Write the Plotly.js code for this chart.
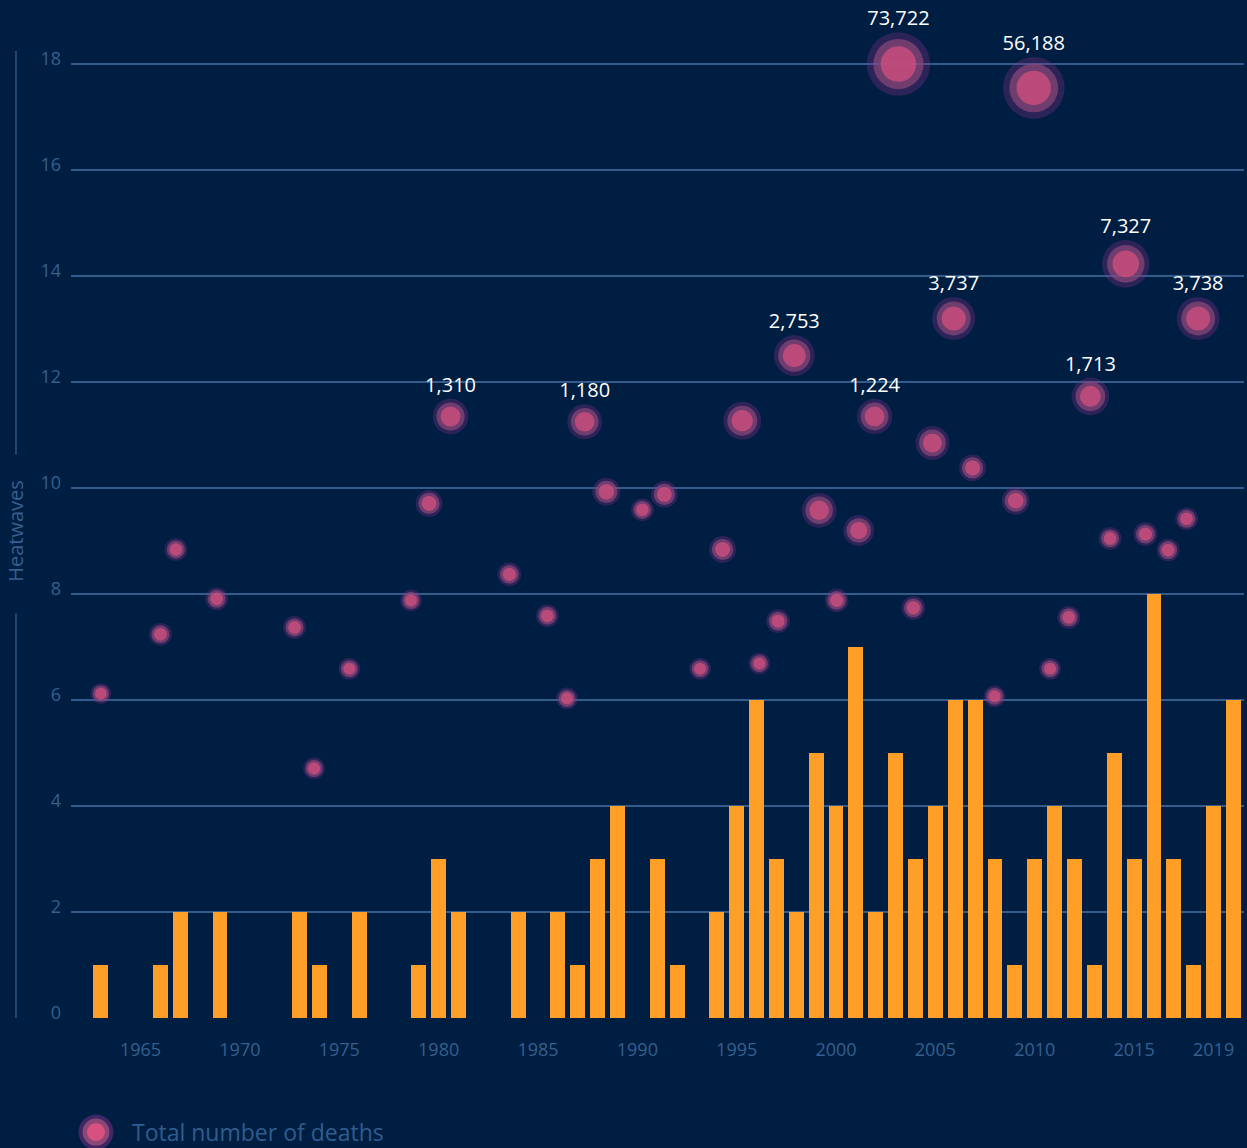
<!DOCTYPE html>
<html>
<head>
<meta charset="utf-8">
<script src="https://cdn.plot.ly/plotly-3.0.1.min.js"></script>
<style>
  html, body { margin: 0; padding: 0; background: #001e41; }
  #chart { width: 1247px; height: 1148px; }
</style>
</head>
<body>
<div id="chart"></div>
<script>
// ---- Data ----
const years = [1963,1964,1965,1966,1967,1968,1969,1970,1971,1972,1973,1974,1975,1976,1977,1978,1979,1980,1981,1982,1983,1984,1985,1986,1987,1988,1989,1990,1991,1992,1993,1994,1995,1996,1997,1998,1999,2000,2001,2002,2003,2004,2005,2006,2007,2008,2009,2010,2011,2012,2013,2014,2015,2016,2017,2018,2019,2020];
const heatwaveCounts = [1,0,0,1,2,0,2,0,0,0,2,1,0,2,0,0,1,3,2,0,0,2,0,2,1,3,4,0,3,1,0,2,4,6,3,2,5,4,7,2,5,3,4,6,6,3,1,3,4,3,1,5,3,8,3,1,4,6];

// Death events (bubbles)
const eventX = [1963.0,1966.0,1966.78,1968.83,1972.75,1973.73,1975.51,1978.61,1979.52,1980.60,1983.56,1985.47,1986.46,1987.35,1988.44,1990.25,1991.36,1993.16,1994.29,1995.28,1996.14,1997.08,1997.90,1999.15,2000.03,2001.14,2001.94,2003.14,2003.89,2004.85,2005.92,2006.87,2007.98,2009.04,2009.95,2010.77,2011.71,2012.80,2013.79,2014.58,2015.57,2016.71,2017.64,2018.22];
const eventY = [6.12,7.24,8.84,7.91,7.37,4.71,6.59,7.88,9.71,11.35,8.37,7.59,6.03,11.25,9.93,9.59,9.88,6.59,8.84,11.27,6.69,7.49,12.50,9.58,7.88,9.20,11.35,18.0,7.74,10.85,13.20,10.38,6.07,9.76,17.55,6.59,7.56,11.73,9.05,14.23,9.13,8.83,9.42,13.20];
const eventDeaths = [150,200,200,200,200,170,170,170,360,1310,230,200,170,1180,420,200,360,170,360,1800,170,230,2753,1150,230,650,1224,73722,230,1000,3737,360,170,420,56188,170,200,1713,200,7327,230,200,200,3738];
const eventLabels = ['','','','','','','','','','1,310','','','','1,180','','','','','','','','','2,753','','','','1,224','73,722','','','3,737','','','','56,188','','','1,713','','7,327','','','','3,738'];

const xTickVals = [1965,1970,1975,1980,1985,1990,1995,2000,2005,2010,2015,2019];
const xTickText = ['1965','1970','1975','1980','1985','1990','1995','2000','2005','2010','2015','2019'];
const yTickVals = [0,2,4,6,8,10,12,14,16,18];

// ---- Styles ----
const BG = '#001e41';
const GRID = '#325c8c';
const TICK = '#35608f';
const FONT = 'Open Sans, Lato, sans-serif';

// bubble diameter scale (log of deaths)
const outerSize = eventDeaths.map(d => 6.9 * Math.log(d) - 13.8);
const midSize = outerSize.map(s => s * 0.79);
const innerSize = outerSize.map(s => s * 0.56);
const labelAnchorSize = outerSize.map(s => s * 0.84);

const traces = [
  {
    type: 'bar', x: years, y: heatwaveCounts, width: 0.75,
    marker: { color: '#ff9f27' }, hoverinfo: 'x+y', showlegend: false
  },
  {
    type: 'scatter', mode: 'markers', x: eventX, y: eventY,
    marker: { size: outerSize, color: 'rgba(150,48,150,0.42)', line: { width: 0 } },
    cliponaxis: false, hoverinfo: 'skip', showlegend: false
  },
  {
    type: 'scatter', mode: 'markers', x: eventX, y: eventY,
    marker: { size: midSize, color: '#8b4877', line: { width: 0 } },
    cliponaxis: false, hoverinfo: 'skip', showlegend: false
  },
  {
    type: 'scatter', mode: 'markers', x: eventX, y: eventY,
    marker: { size: innerSize, color: '#d8507f', line: { width: 0 } },
    cliponaxis: false, hoverinfo: 'skip', showlegend: false
  },
  {
    type: 'scatter', mode: 'markers+text', x: eventX, y: eventY,
    text: eventLabels, textposition: 'top center',
    textfont: { color: '#ffffff', size: 20, family: FONT },
    marker: { size: labelAnchorSize, color: 'rgba(0,0,0,0)', line: { width: 0 } },
    cliponaxis: false, hoverinfo: 'skip', showlegend: false
  }
];

const legX = 0.0213, legY = -0.1195;
function legCircle(d, color) {
  return {
    type: 'circle', xref: 'paper', yref: 'paper', xsizemode: 'pixel', ysizemode: 'pixel',
    xanchor: legX, yanchor: legY, x0: -d/2, x1: d/2, y0: -d/2, y1: d/2,
    fillcolor: color, line: { width: 0 }
  };
}

const layout = {
  width: 1247, height: 1148,
  paper_bgcolor: BG, plot_bgcolor: BG,
  margin: { l: 71, r: 3, t: 63, b: 130 },
  font: { family: FONT, color: TICK },
  showlegend: false,
  bargap: 0,
  xaxis: {
    range: [1961.5, 2020.53], showgrid: false, zeroline: false, showline: false,
    tickmode: 'array', tickvals: xTickVals, ticktext: xTickText,
    ticks: '', ticklabelstandoff: 19,
    tickfont: { size: 18, color: TICK, family: FONT }
  },
  yaxis: {
    range: [0, 18.02], tickmode: 'array', tickvals: yTickVals,
    showgrid: true, gridcolor: GRID, gridwidth: 1.5,
    zeroline: false, showline: false, ticks: '',
    ticklabelstandoff: 9, ticklabelshift: -5,
    tickfont: { size: 18, color: TICK, family: FONT }
  },
  shapes: [
    { type: 'line', xref: 'paper', yref: 'paper', x0: -0.0469, x1: -0.0469, y0: 0.5901, y1: 1.0126, line: { color: GRID, width: 1.3 } },
    { type: 'line', xref: 'paper', yref: 'paper', x0: -0.0469, x1: -0.0469, y0: 0, y1: 0.4235, line: { color: GRID, width: 1.3 } },
    legCircle(35, '#3f2664'),
    legCircle(27, '#8b4877'),
    legCircle(18, '#d8507f')
  ],
  annotations: [
    { text: 'Heatwaves', xref: 'paper', yref: 'paper', x: -0.0473, y: 0.5097, textangle: -90,
      showarrow: false, xanchor: 'center', yanchor: 'middle', font: { size: 20, color: TICK, family: FONT } },
    { text: 'Total number of deaths', xref: 'paper', yref: 'paper', x: 0.0503, y: legY,
      xanchor: 'left', yanchor: 'middle', showarrow: false, font: { size: 23, color: '#2f5d8f', family: FONT } }
  ]
};

Plotly.newPlot('chart', traces, layout, { displayModeBar: false, staticPlot: true });
</script>
</body>
</html>
